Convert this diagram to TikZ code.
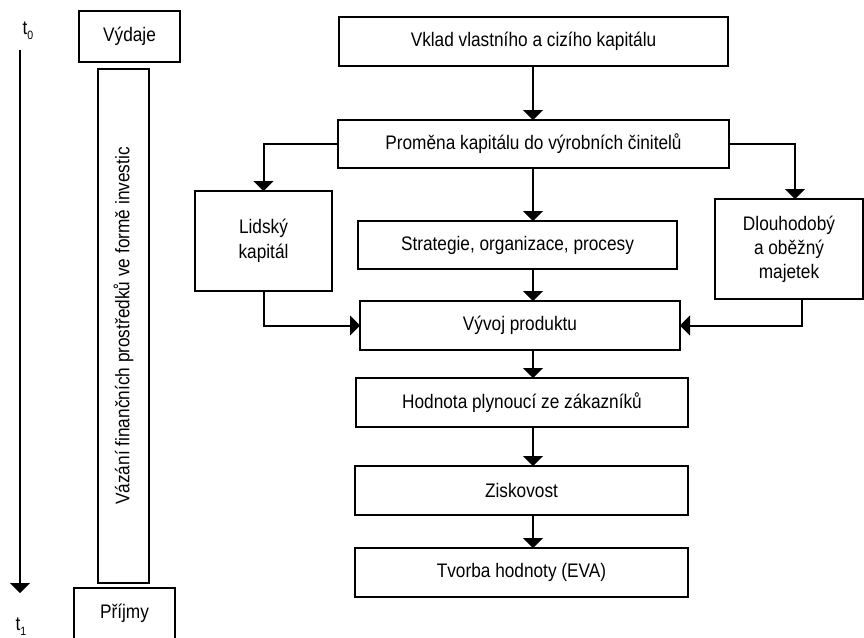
\documentclass[tikz,border=0pt]{standalone}
\usepackage{fontspec}
\setmainfont[FakeStretch=0.88]{Liberation Sans}
\usetikzlibrary{arrows.meta,calc}
\tikzset{
  box/.style={draw, line width=1.5pt, inner sep=0pt, outer sep=0pt, align=center,
    font=\fontsize{14.7}{18}\selectfont},
  arr/.style={line width=1.5pt, -{Triangle[width=15pt,length=7.5pt]}},
  lbl/.style={inner sep=0pt, font=\fontsize{14.7}{16}\selectfont}
}
\newcommand{\bx}[6]{% name, x1, y1, x2, y2, text
  \node[box, minimum width={(#4-#2)*0.75pt}, minimum height={(#5-#3)*0.75pt}]
    (#1) at ({(#2+#4)/2},{(#3+#5)/2}) {#6};}
\begin{document}
\begin{tikzpicture}[x=0.75pt,y=-0.75pt]
\useasboundingbox (0,0) rectangle (864,637);
% left part
\bx{vydaje}{79}{11}{180}{62}{Výdaje}
\node[box, rotate=90, minimum width={514*0.75pt}, minimum height={51*0.75pt}]
  (vazani) at (123.5,326) {Vázání finančních prostředků ve formě investic};
\bx{prijmy}{74}{588}{175}{639}{Příjmy}
\node[lbl] (t0) at (28,31) {t\raisebox{-0.5ex}{\fontsize{9}{9}\selectfont 0}};
\node[lbl] (t1) at (21,627) {t\raisebox{-0.5ex}{\fontsize{9}{9}\selectfont 1}};
\coordinate (ts) at (20,50);
\coordinate (te) at (20,593);
\draw[arr] (ts) -- (te);
% right part
\bx{vklad}{339}{17}{728}{66}{Vklad vlastního a cizího kapitálu}
\bx{promena}{338}{120}{729}{168}{Proměna kapitálu do výrobních činitelů}
\bx{lidsky}{195}{191}{332}{291}{Lidský\\[1pt]kapitál}
\bx{strategie}{358}{221}{677}{269}{Strategie, organizace, procesy}
\bx{dlouho}{715}{199}{863}{299}{Dlouhodobý\\a oběžný\\majetek}
\bx{vyvoj}{360}{301}{680}{350}{Vývoj produktu}
\bx{hodnota}{356}{378}{688}{427}{Hodnota plynoucí ze zákazníků}
\bx{zisk}{355}{466}{688}{515}{Ziskovost}
\bx{tvorba}{355}{548}{688}{597}{Tvorba hodnoty (EVA)}
\coordinate (mx) at (533,0);
\coordinate (dx1) at (795,0);
\coordinate (dx2) at (802,0);
\draw[arr] (vklad.south -| mx) -- (promena.north -| mx);
\draw[arr] (promena.south -| mx) -- (strategie.north -| mx);
\draw[arr] (strategie.south -| mx) -- (vyvoj.north -| mx);
\draw[arr] (vyvoj.south -| mx) -- (hodnota.north -| mx);
\draw[arr] (hodnota.south -| mx) -- (zisk.north -| mx);
\draw[arr] (zisk.south -| mx) -- (tvorba.north -| mx);
\draw[arr] (promena.west) -| (lidsky.north);
\draw[arr] (promena.east) -| (dx1 |- dlouho.north);
\draw[arr] (lidsky.south) |- (vyvoj.west);
\draw[arr] (dx2 |- dlouho.south) |- (vyvoj.east);
\end{tikzpicture}
\end{document}
